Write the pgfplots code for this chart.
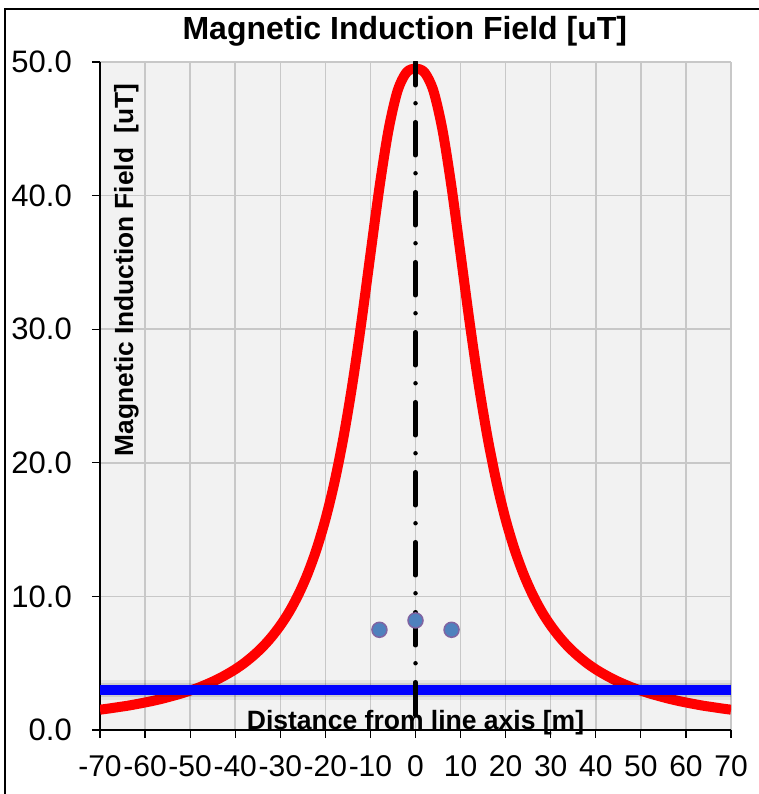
\documentclass[border=0pt]{standalone}
\usepackage{fontspec}
\setmainfont{Liberation Sans}
\usepackage{pgfplots}
\pgfplotsset{compat=1.18}

\definecolor{gridgray}{RGB}{200,200,200}
\definecolor{plotbg}{RGB}{242,242,242}
\definecolor{ptfill}{RGB}{79,129,189}
\definecolor{ptdraw}{RGB}{128,100,162}

% field profile
\pgfplotstableread{
x B
-70 1.52
-68 1.61
-66 1.71
-64 1.81
-62 1.93
-60 2.06
-58 2.20
-56 2.36
-54 2.54
-52 2.73
-50 2.95
-48 3.19
-46 3.47
-44 3.78
-42 4.14
-40 4.54
-38 5.01
-36 5.56
-34 6.19
-32 6.94
-30 7.82
-28 8.86
-26 10.12
-24 11.64
-22 13.49
-20 15.75
-18 18.51
-16 21.87
-14 25.89
-12 30.54
-10 35.61
-8 40.62
-6 44.89
-4 47.82
-2 49.22
0 49.50
2 49.22
4 47.82
6 44.89
8 40.62
10 35.61
12 30.54
14 25.89
16 21.87
18 18.51
20 15.75
22 13.49
24 11.64
26 10.12
28 8.86
30 7.82
32 6.94
34 6.19
36 5.56
38 5.01
40 4.54
42 4.14
44 3.78
46 3.47
48 3.19
50 2.95
52 2.73
54 2.54
56 2.36
58 2.20
60 2.06
62 1.93
64 1.81
66 1.71
68 1.61
70 1.52
}\fieldtable

\begin{document}
\begin{tikzpicture}
\path[use as bounding box] (-100pt,-64pt) rectangle (659pt,730pt);
\draw[line width=1.5pt] (-95pt,-80pt) -- (-95pt,721pt) -- (680pt,721pt);
\begin{axis}[
    at={(0pt,0pt)}, anchor=south west,
    scale only axis,
    width=631pt, height=668pt,
    xmin=-70, xmax=70,
    ymin=0, ymax=50,
    axis x line*=bottom,
    axis y line*=left,
    axis line style={line width=1.2pt, black},
    axis background/.style={fill=plotbg},
    xtick={-70,-60,...,70},
    xticklabels={-70,-60,-50,-40,-30,-20,-10,0,10,20,30,40,50,60,70},
    ytick={0,10,...,50},
    yticklabels={0.0,10.0,20.0,30.0,40.0,50.0},
    tick align=outside,
    major tick length=8pt,
    tick style={line width=1.2pt, black},
    grid=major,
    major grid style={line width=1.5pt, gridgray},
    xticklabel style={anchor=north, inner sep=0pt, yshift=-17pt,
        font=\fontsize{30}{32}\selectfont},
    yticklabel style={anchor=east, inner sep=0pt, xshift=-20pt,
        font=\fontsize{31}{33}\selectfont},
    title={Magnetic Induction Field [uT]},
    title style={at={(axis description cs:0.483,1.0254)}, anchor=base,
        yshift=0pt, font=\bfseries\fontsize{32}{34}\selectfont, inner sep=0pt},
    xlabel={Distance from line axis [m]},
    xlabel style={at={(axis description cs:0.5,0)}, anchor=base,
        font=\bfseries\fontsize{26.5}{28}\selectfont, inner sep=0pt},
    ylabel={Magnetic Induction Field\ \ [uT]},
    ylabel style={at={(axis description cs:0.0523,0.689)}, anchor=base,
        rotate=0, font=\bfseries\fontsize{26.3}{28}\selectfont, inner sep=0pt},
]
\addplot[red, line width=10pt, line join=round, smooth, no markers] table[x=x, y=B] {\fieldtable};

\addplot[black, opacity=0.06, line width=20pt, no markers] coordinates {(-70,3.0)(70,3.0)};
\addplot[black, opacity=0.10, line width=14pt, no markers] coordinates {(-70,3.0)(70,3.0)};
\addplot[blue, line width=10pt, no markers] coordinates {(-70,3.0)(70,3.0)};

\addplot[black, line width=4.5pt, line cap=round,
    dash pattern=on 33pt off 18pt on 0pt off 19pt, dash phase=9.75pt,
    no markers] coordinates {(0,50)(0,0)};

\addplot[only marks, mark=*, mark size=7.5pt,
    mark options={fill=ptfill, draw=ptdraw, line width=1.5pt}]
    coordinates {(-8,7.5)(0,8.2)(8,7.5)};
\end{axis}
\end{tikzpicture}
\end{document}
